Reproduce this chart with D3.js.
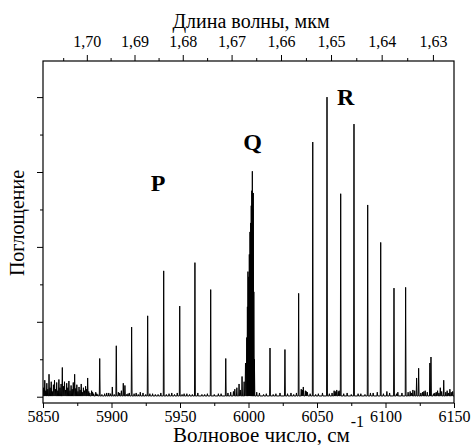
<!DOCTYPE html>
<html>
<head>
<meta charset="utf-8">
<script src="https://cdn.jsdelivr.net/npm/d3@7"></script>
<style>
  body { margin: 0; background: #fff; }
  svg text { font-family: 'Liberation Serif', 'Times New Roman', Times, serif; fill: #000; }
</style>
</head>
<body>
<div id="chart"></div>
<script>
// absorption lines: position (cm-1) and height (arb. units, 1 = one major tick)
var lineNu = [5891.4, 5903.5, 5914.7, 5926.4, 5938.1, 5949.8, 5960.9, 5972.4, 5983.4, 5993.1,
  5995.3, 5996.8, 5997.8, 5998.7, 5999.2, 5999.6, 6000.1, 6000.6, 6001.1, 6001.6, 6002.0, 6002.4, 6002.8, 6003.2, 6003.5, 6003.9, 6004.3,
  6015.7, 6026.6, 6036.6, 6046.9, 6057.3, 6067.3, 6077.0, 6087.0, 6096.5, 6106.2, 6114.7, 6122.7, 6124.2, 6132.4, 6133.2, 6142.5];
var lineAbs = [0.51, 0.68, 0.93, 1.08, 1.68, 1.21, 1.79, 1.43, 0.51, 0.17,
  0.27, 0.20, 0.45, 0.79, 1.20, 1.67, 1.60, 1.90, 2.20, 2.32, 2.55, 2.75, 3.01, 2.50, 2.72, 1.40, 0.50,
  0.65, 0.63, 1.38, 3.40, 4.00, 2.71, 3.64, 2.56, 2.06, 1.45, 1.46, 0.25, 0.38, 0.45, 0.53, 0.22];

// small noise features
var noiseNu = [5850.5, 5851.3, 5852.0, 5852.8, 5853.5, 5854.4, 5855.2, 5856.0, 5856.8, 5857.6, 5858.4, 5859.2, 5860.0, 5860.8,
  5861.6, 5862.4, 5863.2, 5864.1, 5864.9, 5865.7, 5866.5, 5867.3, 5868.1, 5868.9, 5869.7, 5870.5, 5871.3, 5872.1, 5873.1,
  5873.9, 5874.7, 5875.5, 5876.3, 5877.1, 5877.9, 5878.7, 5879.5, 5880.3, 5881.1, 5881.9, 5882.6, 5883.4, 5884.2, 5885.5,
  5887.0, 5888.5, 5890.0, 5895.0, 5898.0, 5900.6, 5906.0, 5908.6, 5909.8, 5912.0, 5918.0, 5921.0, 5930.0, 5934.0, 5944.0,
  5953.0, 5957.0, 5966.0, 5978.0, 5987.0, 5990.0, 6008.0, 6011.0, 6020.0, 6031.0, 6038.5, 6040.0, 6041.5, 6043.0, 6051.0,
  6061.0, 6062.5, 6064.4, 6065.5, 6072.0, 6082.0, 6091.0, 6094.0, 6101.0, 6109.0, 6112.0, 6118.0, 6120.0, 6127.0, 6129.0,
  6136.0, 6138.0, 6140.0, 6145.0, 6147.0, 6149.0,
  5886.2, 5889.2, 5893.0, 5896.5, 5899.3, 5902.0, 5905.0, 5907.2, 5911.0, 5913.0, 5916.5, 5919.5, 5923.0, 5925.0,
  5928.0, 5932.0, 5936.0, 5940.0, 5942.0, 5946.0, 5948.0, 5951.5, 5955.0, 5959.0, 5963.0, 5968.0, 5970.0, 5975.0,
  5980.0, 5985.0, 5989.0, 5991.5, 5994.0, 6006.0, 6013.0, 6018.0, 6023.0, 6028.5, 6033.0, 6035.0, 6039.3, 6042.2,
  6045.0, 6049.0, 6054.0, 6059.0, 6063.3, 6066.2, 6069.5, 6075.0, 6080.0, 6085.0, 6089.0, 6098.5, 6103.0, 6108.0,
  6116.5, 6119.0, 6121.3, 6125.8, 6128.0, 6130.5, 6135.0, 6137.0, 6139.0, 6141.0, 6144.0, 6146.0, 6148.0];
var noiseAbs = [0.12, 0.22, 0.08, 0.18, 0.10, 0.30, 0.12, 0.20, 0.07, 0.16, 0.22, 0.10, 0.19, 0.08,
  0.23, 0.12, 0.17, 0.39, 0.14, 0.20, 0.09, 0.18, 0.12, 0.21, 0.08, 0.15, 0.10, 0.19, 0.30,
  0.11, 0.16, 0.07, 0.13, 0.09, 0.17, 0.06, 0.12, 0.08, 0.14, 0.10, 0.25, 0.07, 0.05, 0.08,
  0.04, 0.06, 0.03, 0.04, 0.05, 0.13, 0.05, 0.18, 0.15, 0.04, 0.05, 0.06, 0.04, 0.03, 0.05,
  0.04, 0.03, 0.03, 0.04, 0.06, 0.10, 0.05, 0.03, 0.04, 0.05, 0.10, 0.13, 0.08, 0.06, 0.04,
  0.05, 0.08, 0.09, 0.07, 0.05, 0.04, 0.05, 0.06, 0.07, 0.06, 0.05, 0.07, 0.09, 0.06, 0.08,
  0.05, 0.08, 0.12, 0.08, 0.10, 0.07,
  0.06, 0.04, 0.03, 0.05, 0.04, 0.03, 0.06, 0.08, 0.03, 0.05, 0.04, 0.03, 0.05, 0.03,
  0.04, 0.03, 0.05, 0.03, 0.04, 0.03, 0.05, 0.03, 0.04, 0.03, 0.05, 0.03, 0.04, 0.03,
  0.04, 0.05, 0.07, 0.12, 0.09, 0.06, 0.04, 0.03, 0.05, 0.04, 0.03, 0.05, 0.09, 0.07,
  0.04, 0.03, 0.05, 0.04, 0.07, 0.08, 0.04, 0.03, 0.04, 0.03, 0.05, 0.04, 0.05, 0.04,
  0.06, 0.05, 0.08, 0.05, 0.07, 0.06, 0.04, 0.06, 0.05, 0.07, 0.06, 0.05, 0.06];
var baseLevel = 0.01;

var xTicks = [5850, 5875, 5900, 5925, 5950, 5975, 6000, 6025, 6050, 6075, 6100, 6125, 6150];
var lambdaTicks = [1.70, 1.69, 1.68, 1.67, 1.66, 1.65, 1.64, 1.63];
var lambdaMinor = [1.705, 1.695, 1.685, 1.675, 1.665, 1.655, 1.645, 1.635];
var yTicks = [0, 0.5, 1, 1.5, 2, 2.5, 3, 3.5, 4];
var branches = [{name: "P", nu: 5934, abs: 2.75}, {name: "Q", nu: 6003, abs: 3.3}, {name: "R", nu: 6071, abs: 3.9}];

var serif = "'Liberation Serif', 'Times New Roman', Times, serif";
var width = 471, height = 445;
var margin = {top: 61, right: 17, bottom: 42, left: 43};
var iw = width - margin.left - margin.right, ih = height - margin.top - margin.bottom;

var svg = d3.select("#chart").append("svg").attr("width", width).attr("height", height)
  .style("font-family", serif);
var g = svg.append("g").attr("transform", "translate(" + margin.left + "," + margin.top + ")");

var x = d3.scaleLinear().domain([5850, 6150]).range([0, iw]);
var y = d3.scaleLinear().domain([-0.084, 4.482]).range([ih, 0]);

g.append("clipPath").attr("id", "clip").append("rect").attr("width", iw).attr("height", ih);

// build the trace from line list + noise
var feats = lineNu.map(function(n, i){ return [n, lineAbs[i]]; })
  .concat(noiseNu.map(function(n, i){ return [n, noiseAbs[i]]; }))
  .sort(function(a, b){ return a[0] - b[0]; });
var hw = 0.3;
var pts = [[5850, baseLevel]];
feats.forEach(function(f){
  pts.push([f[0] - hw, baseLevel], [f[0], f[1]], [f[0] + hw, baseLevel]);
});
pts.push([6150, baseLevel]);

var line = d3.line().x(function(d){ return x(d[0]); }).y(function(d){ return y(d[1]); });
g.append("path").datum(pts)
  .attr("clip-path", "url(#clip)")
  .attr("d", line)
  .attr("fill", "none")
  .attr("stroke", "#000")
  .attr("stroke-width", 1)
  .attr("stroke-linejoin", "bevel");

// frame
g.append("rect").attr("width", iw).attr("height", ih)
  .attr("fill", "none").attr("stroke", "#000").attr("stroke-width", 1.2);

// bottom axis
var xAxis = d3.axisBottom(x).tickValues(xTicks).tickSizeOuter(0)
  .tickFormat(function(d){ return d % 50 === 0 ? d : ""; });
var gx = g.append("g").attr("transform", "translate(0," + ih + ")").call(xAxis)
  .attr("font-family", serif).attr("font-size", 16);
gx.select(".domain").remove();
gx.selectAll(".tick line").attr("y2", function(d){ return d % 50 === 0 ? 5 : 3; }).attr("stroke-width", 1);
gx.selectAll(".tick text").attr("y", 8).attr("dy", "0.71em")
  .style("font-family", serif).style("font-size", "16px");

// left axis, ticks only
var yAxis = d3.axisLeft(y).tickValues(yTicks).tickSizeOuter(0).tickFormat("");
var gy = g.append("g").call(yAxis);
gy.select(".domain").remove();
gy.selectAll(".tick line").attr("x2", function(d){ return d % 1 === 0 ? -6 : -3; });

// top axis in wavelength
var loc = d3.formatLocale({decimal: ",", thousands: " ", grouping: [3], currency: ["", ""]});
var fmt = loc.format(".2f");
var gTop = g.append("g");
gTop.selectAll(".maj").data(lambdaTicks).enter().append("line")
  .attr("x1", function(d){ return x(1e4 / d); }).attr("x2", function(d){ return x(1e4 / d); })
  .attr("y1", 0).attr("y2", -6).attr("stroke", "#000");
gTop.selectAll(".min").data(lambdaMinor).enter().append("line")
  .attr("x1", function(d){ return x(1e4 / d); }).attr("x2", function(d){ return x(1e4 / d); })
  .attr("y1", 0).attr("y2", -3).attr("stroke", "#000");
gTop.selectAll(".lab").data(lambdaTicks).enter().append("text")
  .attr("x", function(d){ return x(1e4 / d); }).attr("y", -14)
  .attr("text-anchor", "middle").style("font-family", serif).style("font-size", "16px")
  .text(function(d){ return fmt(d); });

// titles
svg.append("text").attr("x", 251).attr("y", 28).attr("text-anchor", "middle")
  .style("font-family", serif).style("font-size", "20px").text("Длина волны, мкм");
var xt = svg.append("text").attr("x", 173).attr("y", 442)
  .style("font-family", serif).style("font-size", "21px");
xt.append("tspan").text("Волновое число, см");
xt.append("tspan").attr("dy", -15).attr("dx", 1).style("font-size", "16px").text("-1");
svg.append("text").attr("transform", "translate(24,223) rotate(-90)")
  .attr("text-anchor", "middle").style("font-family", serif).style("font-size", "20px").text("Поглощение");

// branch labels
g.selectAll(".br").data(branches).enter().append("text")
  .attr("x", function(d){ return x(d.nu); }).attr("y", function(d){ return y(d.abs); })
  .attr("text-anchor", "middle").style("font-family", serif)
  .style("font-size", "24px").style("font-weight", "bold")
  .text(function(d){ return d.name; });
</script>
</body>
</html>
